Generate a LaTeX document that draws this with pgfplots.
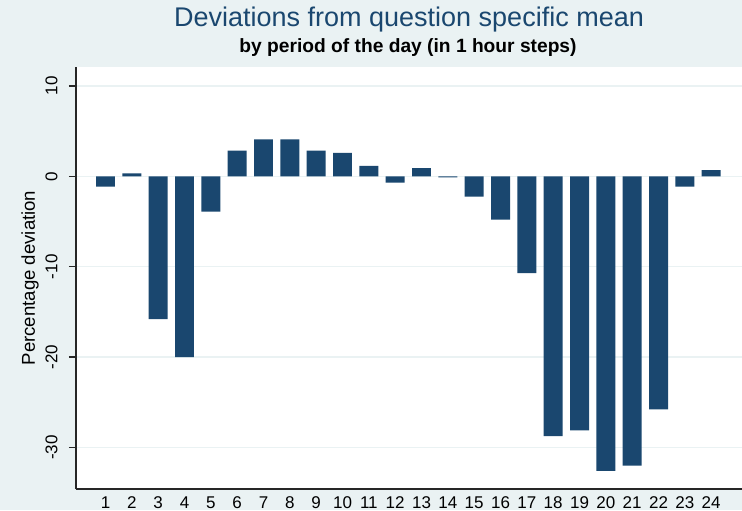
\documentclass[border=0pt]{standalone}
\usepackage{pgfplots}
\pgfplotsset{compat=1.18}
\usepackage{fontspec}
\setmainfont{Liberation Sans}
\definecolor{stblue}{HTML}{1A476F}
\definecolor{stbg}{HTML}{EAF2F3}
\begin{document}
\begin{tikzpicture}
\path[use as bounding box, fill=stbg] (-38pt,-10.5pt) rectangle (333pt,244.5pt);
\begin{axis}[
  at={(0,0)}, anchor=south west, scale only axis,
  width=333pt, height=211pt,
  xmin=-0.12, xmax=25.17, ymin=-34.6, ymax=12.1,
  axis background/.style={fill=white},
  axis x line*=bottom, axis y line*=left,
  axis line style={black!85, line width=0.6pt, -},
  xtick={1,...,24},
  ytick={-30,-20,-10,0,10},
  x tick style={draw=none},
  y tick style={black!85, line width=0.6pt},
  tick align=outside, major tick length=3.5pt,
  ymajorgrids, grid style={stbg, line width=0.7pt},
  /pgf/number format/assume math mode=true,
  xticklabel style={font=\fontsize{8.5}{9}\selectfont, inner sep=0pt, anchor=north, yshift=-0.3pt},
  yticklabel style={font=\fontsize{8.5}{9}\selectfont, rotate=90, anchor=south, inner sep=5.5pt},
  clip=false,
]
\addplot[ybar, bar width=0.72, fill=stblue, draw=none] coordinates {
(1,-1.15) (2,0.33) (3,-15.8) (4,-20.0) (5,-3.9) (6,2.85) (7,4.1) (8,4.1)
(9,2.85) (10,2.6) (11,1.15) (12,-0.7) (13,0.9) (14,-0.1) (15,-2.25) (16,-4.8)
(17,-10.7) (18,-28.75) (19,-28.1) (20,-32.6) (21,-32.0) (22,-25.8) (23,-1.15) (24,0.7)
};
\end{axis}
\node[rotate=90, font=\fontsize{9.3}{10}\selectfont, inner sep=0pt] at (-23pt,105.5pt) {Percentage deviation};
\node[font=\fontsize{13.5}{14}\selectfont, text=stblue, inner sep=0pt] at (166.5pt,234.5pt) {Deviations from question specific mean};
\node[font=\bfseries\fontsize{9.6}{10}\selectfont, inner sep=0pt] at (166pt,220.5pt) {by period of the day (in 1 hour steps)};
\end{tikzpicture}
\end{document}
